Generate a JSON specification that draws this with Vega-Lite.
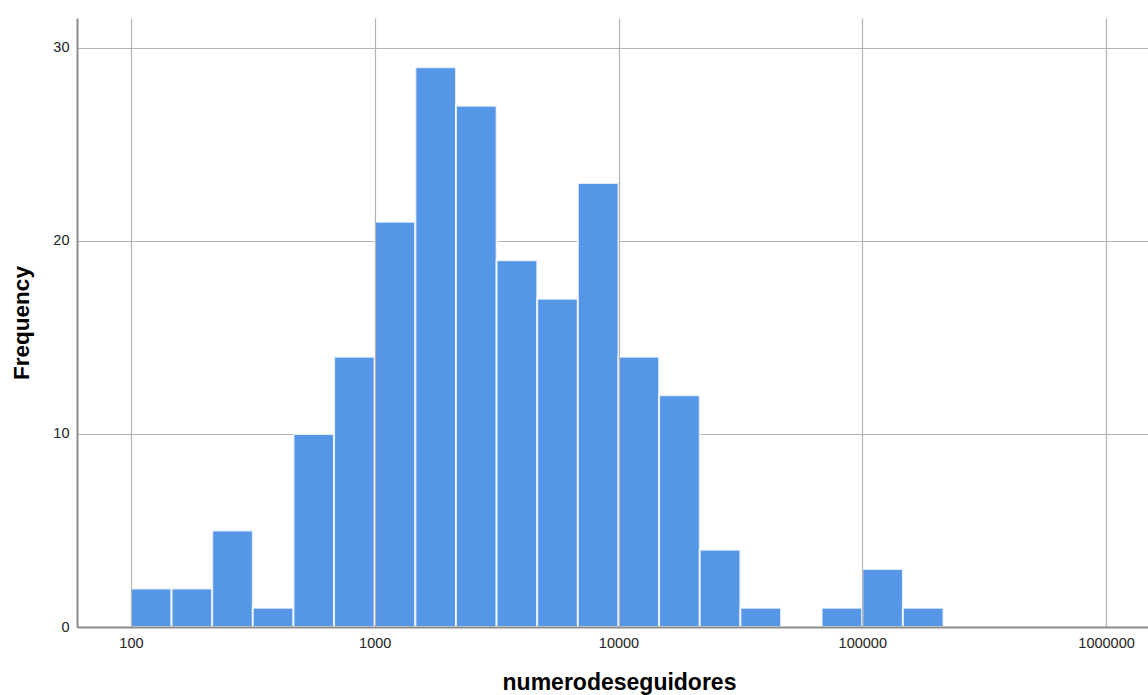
{
  "$schema": "https://vega.github.io/schema/vega-lite/v6.json",
  "width": 1071,
  "height": 609,
  "autosize": {"type": "none"},
  "padding": {"left": 77, "top": 18, "right": 0, "bottom": 68},
  "background": "white",
  "config": {
    "view": {"stroke": null},
    "font": "Liberation Sans"
  },
  "data": {
    "values": [
      {"bin_start": 100, "bin_end": 146.78, "count": 2},
      {"bin_start": 146.78, "bin_end": 215.44, "count": 2},
      {"bin_start": 215.44, "bin_end": 316.23, "count": 5},
      {"bin_start": 316.23, "bin_end": 464.16, "count": 1},
      {"bin_start": 464.16, "bin_end": 681.29, "count": 10},
      {"bin_start": 681.29, "bin_end": 1000, "count": 14},
      {"bin_start": 1000, "bin_end": 1467.8, "count": 21},
      {"bin_start": 1467.8, "bin_end": 2154.4, "count": 29},
      {"bin_start": 2154.4, "bin_end": 3162.3, "count": 27},
      {"bin_start": 3162.3, "bin_end": 4641.6, "count": 19},
      {"bin_start": 4641.6, "bin_end": 6812.9, "count": 17},
      {"bin_start": 6812.9, "bin_end": 10000, "count": 23},
      {"bin_start": 10000, "bin_end": 14678, "count": 14},
      {"bin_start": 14678, "bin_end": 21544, "count": 12},
      {"bin_start": 21544, "bin_end": 31623, "count": 4},
      {"bin_start": 31623, "bin_end": 46416, "count": 1},
      {"bin_start": 46416, "bin_end": 68129, "count": 0},
      {"bin_start": 68129, "bin_end": 100000, "count": 1},
      {"bin_start": 100000, "bin_end": 146780, "count": 3},
      {"bin_start": 146780, "bin_end": 215443, "count": 1}
    ]
  },
  "mark": {"type": "rect", "color": "#5696e6", "stroke": "#ffffff", "strokeWidth": 2, "strokeOpacity": 0.8},
  "encoding": {
    "x": {
      "field": "bin_start",
      "type": "quantitative",
      "scale": {"type": "log", "domain": [60.07, 1486000], "nice": false},
      "axis": {
        "values": [100, 1000, 10000, 100000, 1000000],
        "format": "d",
        "title": "numerodeseguidores",
        "ticks": false,
        "grid": true,
        "gridColor": "#b4b4b4",
        "gridWidth": 1.2,
        "domainColor": "#8c8c8c",
        "domainWidth": 2,
        "labelFontSize": 14.5,
        "labelColor": "#222222",
        "labelPadding": 9,
        "labelFlush": false,
        "titleFontSize": 23,
        "titleFontWeight": "bold",
        "titleColor": "#000000",
        "titlePadding": 22,
        "titleX": 542,
        "zindex": 1
      }
    },
    "x2": {"field": "bin_end"},
    "y": {
      "field": "count",
      "type": "quantitative",
      "scale": {"domain": [0, 31.55], "nice": false},
      "axis": {
        "values": [0, 10, 20, 30],
        "title": "Frequency",
        "ticks": false,
        "grid": true,
        "gridColor": "#b4b4b4",
        "gridWidth": 1.2,
        "domainColor": "#8c8c8c",
        "domainWidth": 2,
        "labelFontSize": 14.5,
        "labelColor": "#222222",
        "labelPadding": 8,
        "titleFontSize": 22.5,
        "titleFontWeight": "bold",
        "titleColor": "#000000",
        "titlePadding": 19,
        "zindex": 0
      }
    },
    "y2": {"datum": 0}
  }
}
